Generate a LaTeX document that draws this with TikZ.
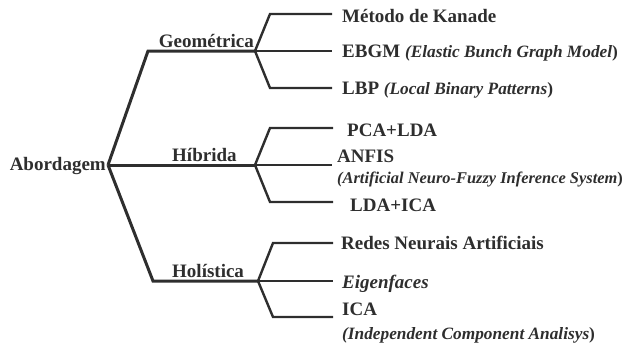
\documentclass[tikz,border=0pt]{standalone}
\usepackage{fontspec}
\setmainfont{Liberation Serif}
\definecolor{ink}{HTML}{2E2E2E}
\begin{document}
\begin{tikzpicture}[x=1pt,y=-1pt,
  trunk/.style={draw=ink,line width=3pt},
  twig/.style={draw=ink,line width=2.4pt},
  lbl/.style={inner sep=0pt,text=ink,font=\fontsize{19}{22}\selectfont\bfseries},
  leaf/.style={lbl,anchor=base west}]
\newcommand{\sm}[1]{{\fontsize{17.3}{20}\selectfont #1}}
\useasboundingbox (0,0) rectangle (624,343);
% root
\node[lbl,anchor=base east] (abord) at (106,170) {Abordagem};
\coordinate (r) at (108,165);
% level 1
\coordinate (g0) at (148,51);  \coordinate (gJ) at (255,51);
\coordinate (hJ) at (255,165);
\coordinate (o0) at (153,281); \coordinate (oJ) at (258,281);
\node[lbl,anchor=base east] (geo) at (254,47) {Geométrica};
\node[lbl,anchor=base west] (hib) at (172,161) {Híbrida};
\node[lbl,anchor=base west] (hol) at (172,277) {Holística};
\draw[trunk] (r) -- (g0) -- (gJ);
\draw[trunk] (r) -- (hJ);
\draw[trunk] (r) -- (o0) -- (oJ);
% geometrica children
\coordinate (g1a) at (270,14);  \coordinate (g1b) at (332,14);
\coordinate (g2b) at (332,51);
\coordinate (g3a) at (270,88);  \coordinate (g3b) at (332,88);
\draw[twig] (gJ) -- (g1a) -- (g1b);
\draw[twig] (gJ) -- (g2b);
\draw[twig] (gJ) -- (g3a) -- (g3b);
\node[leaf] (kan) at (342,22) {Método de Kanade};
\node[leaf] (ebgm) at (342,57) {EBGM \sm{\textit{(Elastic Bunch Graph Model})}};
\node[leaf] (lbp) at (342,94) {LBP \sm{\textit{(Local Binary Patterns})}};
% hibrida children
\coordinate (h1a) at (270,128); \coordinate (h1b) at (333,128);
\coordinate (h2b) at (332,165);
\coordinate (h3a) at (270,202); \coordinate (h3b) at (333,202);
\draw[twig] (hJ) -- (h1a) -- (h1b);
\draw[twig] (hJ) -- (h2b);
\draw[twig] (hJ) -- (h3a) -- (h3b);
\node[leaf] (pca) at (347,136) {PCA+LDA};
\node[leaf] (anfis) at (337,162) {ANFIS};
\node[leaf] (anfisx) at (337,183) {\fontsize{16.4}{19}\selectfont\textit{(Artificial Neuro-Fuzzy Inference System})};
\node[leaf] (lda) at (350,211) {LDA+ICA};
% holistica children
\coordinate (o1a) at (273,243); \coordinate (o1b) at (333,243);
\coordinate (o2b) at (333,281);
\coordinate (o3a) at (273,317); \coordinate (o3b) at (333,317);
\draw[twig] (oJ) -- (o1a) -- (o1b);
\draw[twig] (oJ) -- (o2b);
\draw[twig] (oJ) -- (o3a) -- (o3b);
\node[leaf] (rna) at (341,249) {Redes Neurais Artificiais};
\node[leaf] (eig) at (342,288) {\textit{Eigenfaces}};
\node[leaf] (ica) at (342,315) {ICA};
\node[leaf] (icax) at (342,339) {\sm{\textit{(Independent Component Analisys})}};
\end{tikzpicture}
\end{document}
